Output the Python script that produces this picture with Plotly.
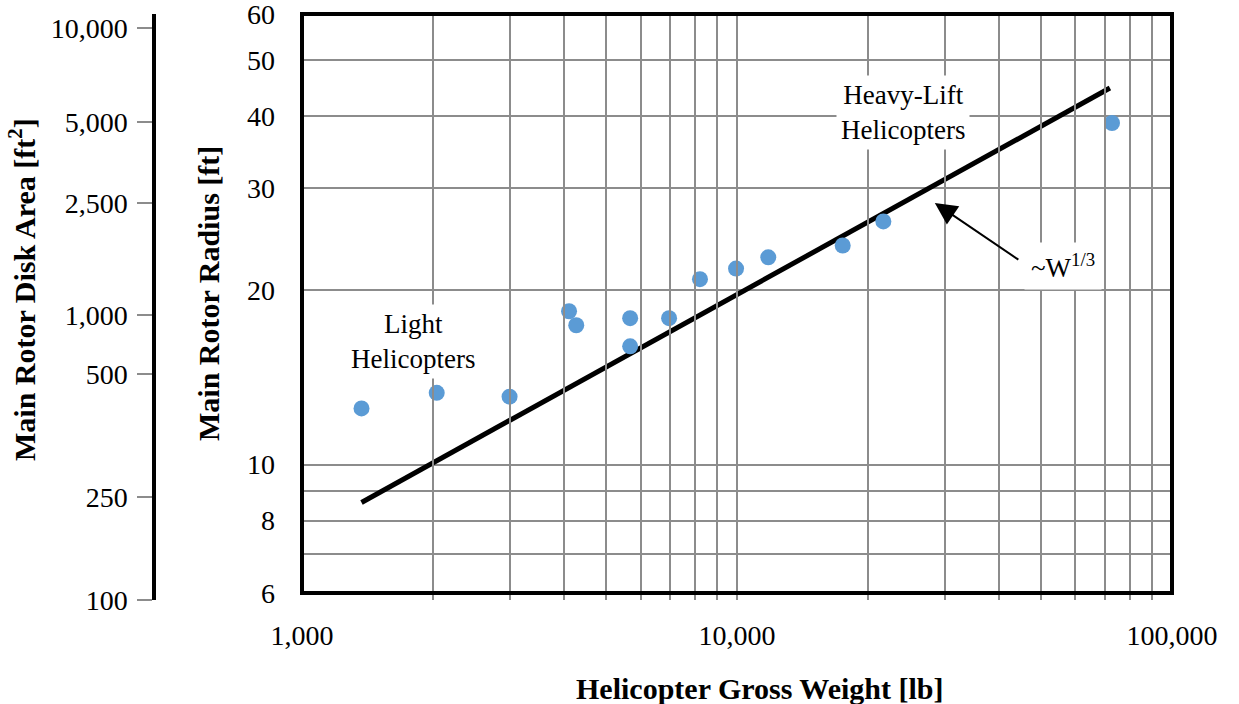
import math
import plotly.graph_objects as go

# Helicopter gross weight [lb] and main rotor radius [ft]
gross_weight_lb = [1370, 2040, 3000, 4110, 4270, 5680, 5680, 6980, 8220, 9950, 11800, 17500, 21700, 72800]
rotor_radius_ft = [12.5, 13.3, 13.1, 18.4, 17.4, 17.9, 16.0, 17.9, 20.9, 21.8, 22.8, 23.9, 26.3, 38.9]

# ~W^(1/3) trend line end points
trend_weight_lb = [1370, 72000]
trend_radius_ft = [8.6, 44.7]

# Radius axis ticks
radius_ticks = [6, 7, 8, 9, 10, 20, 30, 40, 50, 60]
radius_tick_text = ["6", "", "8", "", "10", "20", "30", "40", "50", "60"]

# Weight axis ticks
weight_ticks = [1000, 2000, 3000, 4000, 5000, 6000, 7000, 8000, 9000,
                10000, 20000, 30000, 40000, 50000, 60000, 70000, 80000, 90000, 100000]
weight_tick_text = ["1,000"] + [""] * 8 + ["10,000"] + [""] * 8 + ["100,000"]

# Disk area scale, placed against the equivalent rotor radius
disk_area_labels = ["100", "250", "500", "1,000", "2,500", "5,000", "10,000"]
disk_area_tick_radius_ft = [5.84, 8.78, 14.35, 18.1, 28.3, 39.1, 56.7]

FONT = "Liberation Serif"
GRID = "#8c8c8c"

W, H = 1239, 704
ML, MR, MT, MB = 0, 67, 14, 104
PW, PH = W - ML - MR, H - MT - MB

lg = math.log10
EPS = 1e-4

fig = go.Figure()

# empty series that carries the disk-area axis
fig.add_trace(go.Scatter(
    x=[], y=[], yaxis="y2", mode="markers", showlegend=False, hoverinfo="skip",
))
fig.add_trace(go.Scatter(
    x=trend_weight_lb, y=trend_radius_ft, mode="lines",
    line=dict(color="black", width=5), showlegend=False, hoverinfo="skip",
))
fig.add_trace(go.Scatter(
    x=gross_weight_lb, y=rotor_radius_ft, mode="markers",
    marker=dict(color="#5b9bd5", size=16, line=dict(width=0)),
    showlegend=False,
))


def px_x(p):
    return p / PW


def px_y(p):
    return (H - MB - p) / PH


fig.update_layout(
    width=W, height=H,
    margin=dict(l=ML, r=MR, t=MT, b=MB, autoexpand=False),
    paper_bgcolor="white", plot_bgcolor="rgba(0,0,0,0)",
    font=dict(family=FONT, color="black", size=28),
    xaxis=dict(
        type="log", range=[3 - EPS, 5 + EPS], domain=[302 / PW, 1],
        tickvals=weight_ticks, ticktext=weight_tick_text,
        showgrid=True, gridcolor=GRID, gridwidth=1.5,
        ticks="", showline=False, zeroline=False,
        tickfont=dict(family=FONT, size=28, color="black"),
        ticklabelstandoff=23, anchor="y", ticklabeloverflow="allow",
    ),
    yaxis=dict(
        type="log", range=[lg(6) - EPS, lg(60) + EPS], domain=[7 / PH, 1],
        tickvals=radius_ticks, ticktext=radius_tick_text,
        showgrid=True, gridcolor=GRID, gridwidth=1.5,
        ticks="", showline=False, zeroline=False,
        tickfont=dict(family=FONT, size=28, color="black"),
        ticklabelstandoff=26, anchor="x", ticklabeloverflow="allow",
    ),
    yaxis2=dict(
        type="log", range=[lg(5.84) - EPS, lg(60) + EPS], domain=[0, 1],
        anchor="free", position=154 / PW, side="left",
        tickvals=disk_area_tick_radius_ft, ticktext=disk_area_labels,
        showgrid=False, zeroline=False,
        showline=True, linecolor="black", linewidth=3.5,
        ticks="outside", ticklen=15, tickwidth=2, tickcolor="#8c8c8c",
        tickfont=dict(family=FONT, size=28, color="black"),
        ticklabelstandoff=4, ticklabeloverflow="allow",
    ),
    shapes=[dict(
        type="rect", xref="x domain", yref="y domain",
        x0=0, x1=1, y0=0, y1=1,
        line=dict(color="black", width=4), layer="above",
    )],
)

annotations = [
    # axis titles
    dict(text="<b>Helicopter Gross Weight [lb]</b>", xref="paper", yref="paper",
         x=px_x(760), y=px_y(688), showarrow=False, font=dict(size=30),
         xanchor="center", yanchor="middle"),
    dict(text="<b>Main Rotor Radius [ft]</b>", xref="paper", yref="paper",
         x=px_x(208), y=px_y(294), showarrow=False, textangle=-90,
         font=dict(size=30), xanchor="center", yanchor="middle"),
    dict(text="<b>Main Rotor Disk Area [ft<sup>2</sup>]</b>", xref="paper", yref="paper",
         x=px_x(22), y=px_y(290), showarrow=False, textangle=-90,
         font=dict(size=30), xanchor="center", yanchor="middle"),
    # group labels
    dict(text="Light<br>Helicopters", xref="x", yref="y",
         x=lg(1800), y=lg(16.3), showarrow=False, bgcolor="white",
         font=dict(size=27), borderpad=4),
    dict(text="Heavy-Lift<br>Helicopters", xref="x", yref="y",
         x=lg(24070), y=lg(40.5), showarrow=False, bgcolor="white",
         font=dict(size=27), borderpad=4),
    # trend label and arrow
    dict(text="", xref="x", yref="y", axref="x", ayref="y",
         x=lg(28500), y=lg(28.3), ax=lg(44700), ay=lg(22.5),
         showarrow=True, arrowhead=2, arrowsize=2.2, arrowwidth=2,
         arrowcolor="black"),
    dict(text="~W<sup>1/3</sup>", xref="x", yref="y",
         x=lg(56100), y=lg(22.07), showarrow=False, bgcolor="white",
         font=dict(size=27), borderpad=6),
]
fig.update_layout(annotations=annotations)

fig.write_html("out.html")
